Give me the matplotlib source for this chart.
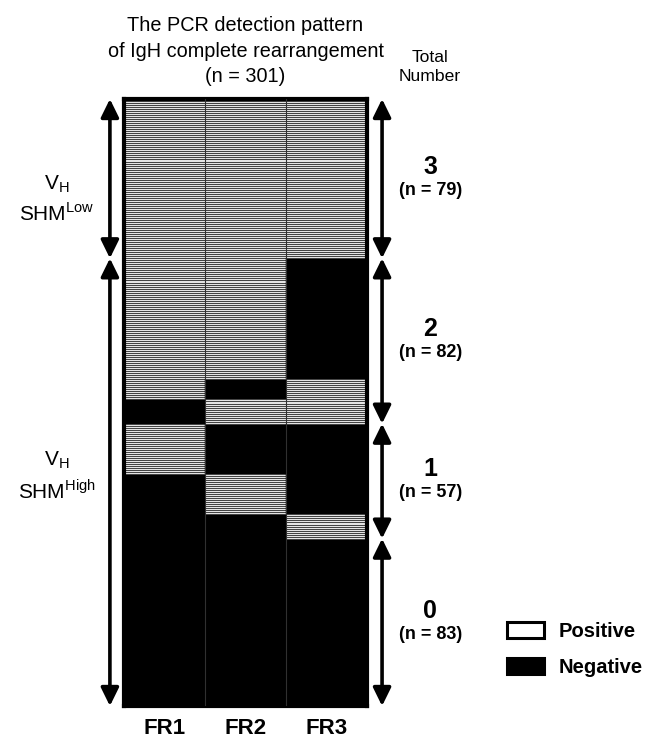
import matplotlib
matplotlib.use("Agg")
import matplotlib.pyplot as plt
import matplotlib.transforms as mtransforms
from matplotlib import font_manager
from matplotlib.patches import Patch
import numpy as np

plt.rcParams['font.family'] = ['Liberation Sans', 'DejaVu Sans']
_names = {f.name for f in font_manager.fontManager.ttflist}
if 'Liberation Sans Narrow' in _names:
    NARROW = ['Liberation Sans Narrow', 'Liberation Sans']
    NARROW_SCALE = 1.0
else:
    NARROW = ['Liberation Sans', 'DejaVu Sans']
    NARROW_SCALE = 0.84

# ---- data ----
columns = ["FR1", "FR2", "FR3"]
# detection patterns (1 = positive, 0 = negative) for FR1, FR2, FR3, in row order
patterns = [
    (1, 1, 1),
    (1, 1, 0),
    (1, 0, 1),
    (0, 1, 1),
    (1, 0, 0),
    (0, 1, 0),
    (0, 0, 1),
    (0, 0, 0),
]
pattern_counts = [79, 60, 10, 12, 25, 20, 12, 83]
group_labels = ["3", "2", "1", "0"]
group_counts = [79, 82, 57, 83]
shm_labels = [r"V$_\mathregular{H}$" + "\n" + r"SHM$^\mathregular{Low}$",
              r"V$_\mathregular{H}$" + "\n" + r"SHM$^\mathregular{High}$"]
shm_counts = [79, 222]
total_n = 301

matrix = np.array([p for p, c in zip(patterns, pattern_counts) for _ in range(c)])
n_rows = matrix.shape[0]

W, H = 652, 742
fig = plt.figure(figsize=(W / 100, H / 100), dpi=100)
ax = fig.add_axes([124 / W, 1 - 706 / H, (367 - 124) / W, (706 - 99) / H])

rows = np.arange(n_rows)
for j in range(len(columns)):
    pos = rows[matrix[:, j] == 1]
    neg = rows[matrix[:, j] == 0]
    ax.barh(neg + 0.5, 1, left=j, height=1, color="black", edgecolor="black", lw=0.3)
    ax.barh(pos + 0.5, 1, left=j, height=1, color="#e4e4e4", edgecolor="#424242", lw=0.7)
for j in range(1, len(columns)):
    ax.axvline(j, color="#303030", lw=0.8, zorder=3)

ax.set_xlim(0, len(columns))
ax.set_ylim(n_rows, 0)
for s in ax.spines.values():
    s.set_linewidth(3.0)
    s.set_color("black")
ax.set_yticks([])
ax.set_xticks(np.arange(len(columns)) + 0.5)
ax.set_xticklabels(columns, fontsize=16, fontweight="bold")
ax.tick_params(axis="x", length=0, pad=9)

trans = mtransforms.blended_transform_factory(ax.transAxes, ax.transData)
aprops = dict(arrowstyle="<|-|>,head_length=0.55,head_width=0.27", lw=2.6,
              color="black", shrinkA=0, shrinkB=0, mutation_scale=20)

# left arrows (SHM groups)
shm_shift = [10, -3]
start = 0
for lab, c, sh in zip(shm_labels, shm_counts, shm_shift):
    ax.annotate("", xy=(-0.058, start), xytext=(-0.058, start + c), xycoords=trans,
                textcoords=trans, arrowprops=aprops, annotation_clip=False)
    ax.text(-0.275, start + c / 2 + sh, lab, transform=trans,
            ha="center", va="center", fontsize=15, linespacing=1.4)
    start += c

# right arrows (total number groups)
start = 0
for lab, c in zip(group_labels, group_counts):
    ax.annotate("", xy=(1.062, start), xytext=(1.062, start + c), xycoords=trans,
                textcoords=trans, arrowprops=aprops, annotation_clip=False)
    mid = start + c / 2
    ax.annotate(lab, xy=(1.26, mid), xycoords=trans, xytext=(0, 8.5),
                textcoords="offset points", ha="center", va="center",
                fontsize=18, fontweight="bold", annotation_clip=False)
    ax.annotate(f"(n = {c})", xy=(1.26, mid), xycoords=trans, xytext=(0, -8.5),
                textcoords="offset points", ha="center", va="center",
                fontsize=13, fontweight="bold", annotation_clip=False)
    start += c

# titles
off = mtransforms.ScaledTranslation(0, 9 / 72, fig.dpi_scale_trans)
ax.text(0.5, 1.0, "The PCR detection pattern\nof IgH complete rearrangement\n"
        f"(n = {total_n})", transform=ax.transAxes + off, ha="center", va="bottom",
        fontsize=17 * NARROW_SCALE, linespacing=1.45, family=NARROW)
off2 = mtransforms.ScaledTranslation(0, 11 / 72, fig.dpi_scale_trans)
ax.text(1.26, 1.0, "Total\nNumber", transform=ax.transAxes + off2, ha="center",
        va="bottom", fontsize=15 * NARROW_SCALE, linespacing=1.3, family=NARROW)

handles = [Patch(facecolor="white", edgecolor="black", lw=2.2, label="Positive"),
           Patch(facecolor="black", edgecolor="black", lw=2.2, label="Negative")]
fig.legend(handles=handles, loc="upper left", bbox_to_anchor=(489 / W, 1 - 604 / H),
           frameon=False, prop=dict(size=14.5, weight="bold"), handlelength=1.85,
           handleheight=0.85, labelspacing=0.85, handletextpad=0.7, borderpad=0.4)

fig.savefig("out.png", dpi=100)
